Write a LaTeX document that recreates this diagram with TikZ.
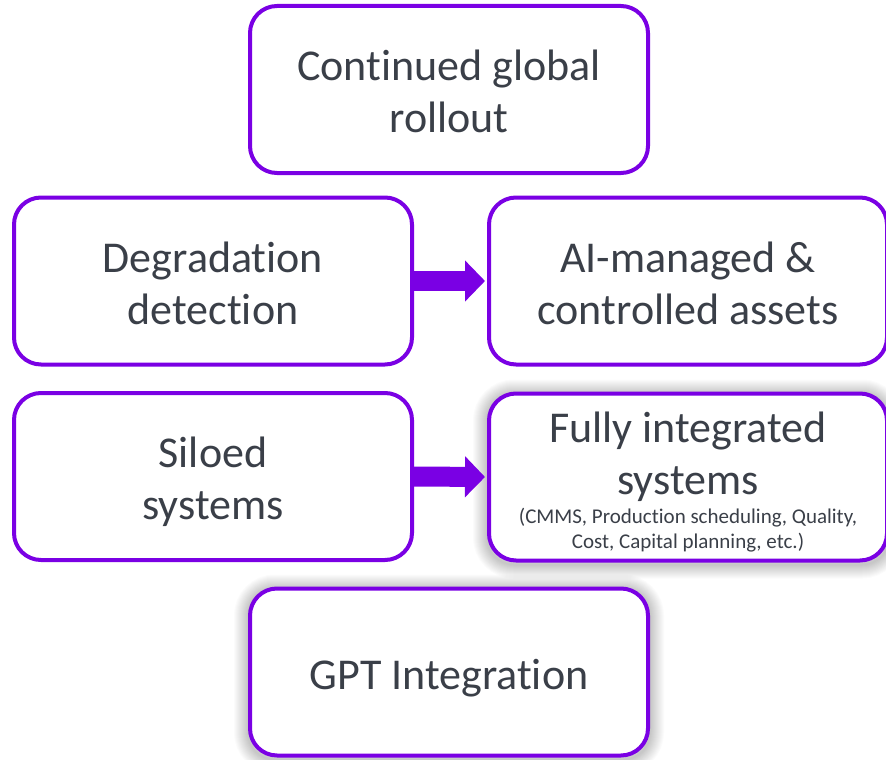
\documentclass[tikz,border=0pt]{standalone}
\usepackage{fontspec}
\setmainfont{Carlito}[Ligatures={NoCommon,NoContextual,NoRare}]
\usetikzlibrary{arrows.meta,backgrounds}

% keeps "t" and "i" as separate glyphs
\newcommand\tisep{\kern0pt}

\definecolor{boxpurple}{RGB}{122,0,228}
\definecolor{inkgray}{RGB}{58,63,72}

\tikzset{
  card/.style={draw=boxpurple, line width=4pt, rounded corners=27pt, fill=white,
    minimum width=398pt, minimum height=167pt, inner sep=0pt},
  caption/.style={text=inkgray, inner sep=0pt, align=center,
    font=\fontsize{44}{52}\selectfont},
  note/.style={caption, font=\fontsize{21}{25}\selectfont},
  flow/.style={boxpurple, line width=20pt, shorten >=2pt,
    -{Triangle[width=40pt,length=20pt]}},
  glow/.style={draw=black, opacity=0.015, rounded corners=27pt},
}

\begin{document}
\begin{tikzpicture}[x=1pt, y=-1pt]
  \clip (0,0) rectangle (886,760);

  % boxes
  \node[card] (top)  at (449,89.5) {};
  \node[card] (deg)  at (213,281)  {};
  \node[card] (ai)   at (688,281)  {};
  \node[card] (sil)  at (213,476.5) {};
  \node[card] (full) at (688,477)  {};
  \node[card] (gpt)  at (449,672)  {};

  % box texts
  \node[caption] (toptext)  at (449,91)    {Continued global\\rollout};
  \node[caption] (degtext)  at (213,283)   {Degradat\tisep ion\\detect\tisep ion};
  \node[caption] (aitext)   at (688,283)   {AI-managed \&\\controlled assets};
  \node[caption] (siltext)  at (213,482)   {Siloed\\systems};
  \node[caption] (fulltext) at (688,457)   {Fully integrated\\systems};
  \node[note]    (fullnote) at (688,530)
    {(CMMS, Production scheduling, Quality,\\Cost, Capital planning, etc.)};
  \node[caption] (gpttext)  at (449,678)   {GPT Integrat\tisep ion};

  % page background and the soft glow behind the two highlighted boxes
  \begin{scope}[on background layer]
    \fill[white] (0,0) rectangle (886,760);
    \foreach \b in {full,gpt}{
      \foreach \w in {2,4,...,28}{
        \draw[glow, line width=\w pt]
          ([yshift=-2pt]\b.south west) rectangle ([yshift=-2pt]\b.north east);
      }
    }
  \end{scope}

  % arrows
  \draw[flow] (deg.east) -- (ai.west);
  \draw[flow] (sil.east) -- (full.west);
\end{tikzpicture}
\end{document}
